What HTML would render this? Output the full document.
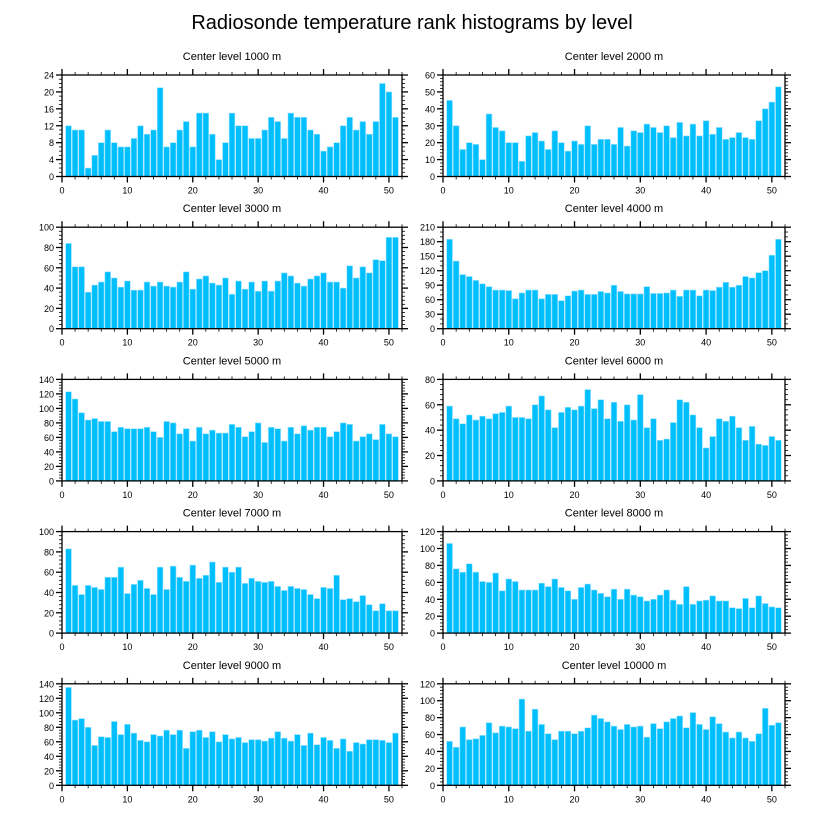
<!DOCTYPE html>
<html><head><meta charset="utf-8">
<style>
html,body{margin:0;padding:0;background:#fff;}
svg{display:block;font-family:"Liberation Sans",sans-serif;}
</style></head>
<body>
<svg id="chart" width="824" height="824" viewBox="0 0 824 824">
<text x="412" y="29" text-anchor="middle" font-size="20">Radiosonde temperature rank histograms by level</text>
</svg>
<script>
const levels = ["1000","2000","3000","4000","5000","6000","7000","8000","9000","10000"];
const yMax = [24,60,100,210,140,80,100,120,140,120];
const yStep = [4,10,20,30,20,20,20,20,20,20];
const xTicks = [0,10,20,30,40,50];
const h1000 = [12,11,11,2,5,8,11,8,7,7,9,12,10,11,21,7,8,11,13,7,15,15,10,4,8,15,12,12,9,9,11,14,13,9,15,14,14,11,10,6,7,8,12,14,11,13,10,13,22,20,14];
const h2000 = [45,30,16,20,19,10,37,29,27,20,20,9,24,26,21,16,27,20,15,21,19,30,19,22,22,19,29,18,27,26,31,29,26,30,23,32,24,31,24,33,25,29,22,23,26,23,22,33,40,44,53];
const h3000 = [84,61,61,36,43,46,56,50,41,47,38,38,46,42,46,42,41,46,56,39,49,52,45,43,50,34,47,39,46,37,47,37,47,55,52,45,42,49,52,55,46,46,40,62,50,61,55,68,67,90,90];
const h4000 = [185,140,112,108,100,93,87,80,80,79,62,74,80,80,62,71,71,58,68,78,80,71,71,77,74,90,77,72,72,72,87,73,73,74,80,67,80,80,68,80,79,86,96,86,90,108,105,116,120,152,185];
const h5000 = [123,113,94,84,86,82,82,68,74,72,72,72,74,68,60,82,80,65,72,55,74,65,70,66,66,78,74,61,68,80,53,74,72,55,74,65,76,70,74,74,61,68,80,78,55,61,65,57,78,65,61];
const h6000 = [59,49,45,52,48,51,49,53,54,59,50,50,49,60,67,56,42,54,58,56,59,72,57,64,49,62,47,60,48,68,42,49,32,33,46,64,62,52,42,26,35,49,47,51,42,32,43,29,28,35,32];
const h7000 = [83,47,38,47,45,43,55,55,65,39,48,52,44,38,65,43,66,55,51,67,54,57,70,50,65,60,65,49,54,51,50,51,46,42,46,44,43,38,34,45,44,57,33,34,31,37,28,22,29,22,22];
const h8000 = [106,76,72,82,72,61,60,71,50,64,61,51,51,51,59,55,64,54,50,40,54,58,51,47,43,52,40,52,45,43,38,40,45,51,39,34,55,34,38,39,44,38,38,30,29,41,30,44,35,31,30];
const h9000 = [135,90,92,80,55,67,66,88,70,84,72,62,60,70,68,76,70,76,51,74,76,66,74,60,70,64,66,59,63,63,61,65,74,65,61,70,55,72,56,66,62,51,64,47,59,57,63,63,62,59,72];
const h10000 = [52,45,69,54,55,59,74,62,70,69,67,102,64,90,72,61,54,64,64,61,64,68,83,79,75,70,66,72,69,70,57,73,67,75,79,82,68,86,72,66,81,73,63,56,63,56,52,61,91,71,74];
const series = [h1000,h2000,h3000,h4000,h5000,h6000,h7000,h8000,h9000,h10000];

const NS="http://www.w3.org/2000/svg";
const svg=document.getElementById('chart');
function mk(tag,attrs,parent){const e=document.createElementNS(NS,tag);for(const k in attrs)e.setAttribute(k,attrs[k]);(parent||svg).appendChild(e);return e;}
const XMAX=52;
series.forEach((vals,p)=>{
  const col=p%2,row=Math.floor(p/2);
  const L=col?443:62, R=col?785:402, T=75+row*152.2, B=T+101.5;
  const xs=v=>L+(v/XMAX)*(R-L);
  const ys=v=>B-(v/yMax[p])*(B-T);
  const g=mk('g',{});
  
  
  const t=mk('text',{x:(L+R)/2,y:T-15,'text-anchor':'middle','font-size':11},g);
  t.textContent='Center level '+levels[p]+' m';
  
  
  vals.forEach((v,i)=>{
    const x=i+1, w=0.88;
    const r=mk('rect',{x:xs(x-w/2),y:ys(v),width:xs(w)-xs(0),height:B-ys(v),fill:'#00bfff',stroke:'#9fe3ff','stroke-width':0.6},g);
    
    
  });
  const fr=mk('rect',{x:L,y:T,width:R-L,height:B-T,fill:'none',stroke:'#000','stroke-width':1.3},g);
  
  
  for(let v=0;v<=XMAX;v+=2){
    const maj=v%10===0, len=maj?6:3;
    mk('line',{x1:xs(v),x2:xs(v),y1:B,y2:B+len,stroke:'#000','stroke-width':maj?1.3:0.8},g);
    mk('line',{x1:xs(v),x2:xs(v),y1:T,y2:T-len,stroke:'#000','stroke-width':maj?1.3:0.8},g);
  }
  xTicks.forEach(v=>{
    const tl=mk('text',{x:xs(v),y:B+17,'text-anchor':'middle','font-size':9},g);
    tl.textContent=v;
    
    
  });
  const minor=yStep[p]/ (yStep[p]===30?3:(yStep[p]===4?4:5));
  for(let v=0;v<=yMax[p]+1e-6;v+=minor){
    const maj=Math.abs(v/yStep[p]-Math.round(v/yStep[p]))<1e-6, len=maj?6:3;
    mk('line',{x1:L,x2:L-len,y1:ys(v),y2:ys(v),stroke:'#000','stroke-width':maj?1.3:0.8},g);
    mk('line',{x1:R,x2:R+len,y1:ys(v),y2:ys(v),stroke:'#000','stroke-width':maj?1.3:0.8},g);
  }
  for(let v=0;v<=yMax[p];v+=yStep[p]){
    const tl=mk('text',{x:L-8,y:ys(v)+3.5,'text-anchor':'end','font-size':9},g);
    tl.textContent=v;
    
    
  }
});
</script>
</body></html>
